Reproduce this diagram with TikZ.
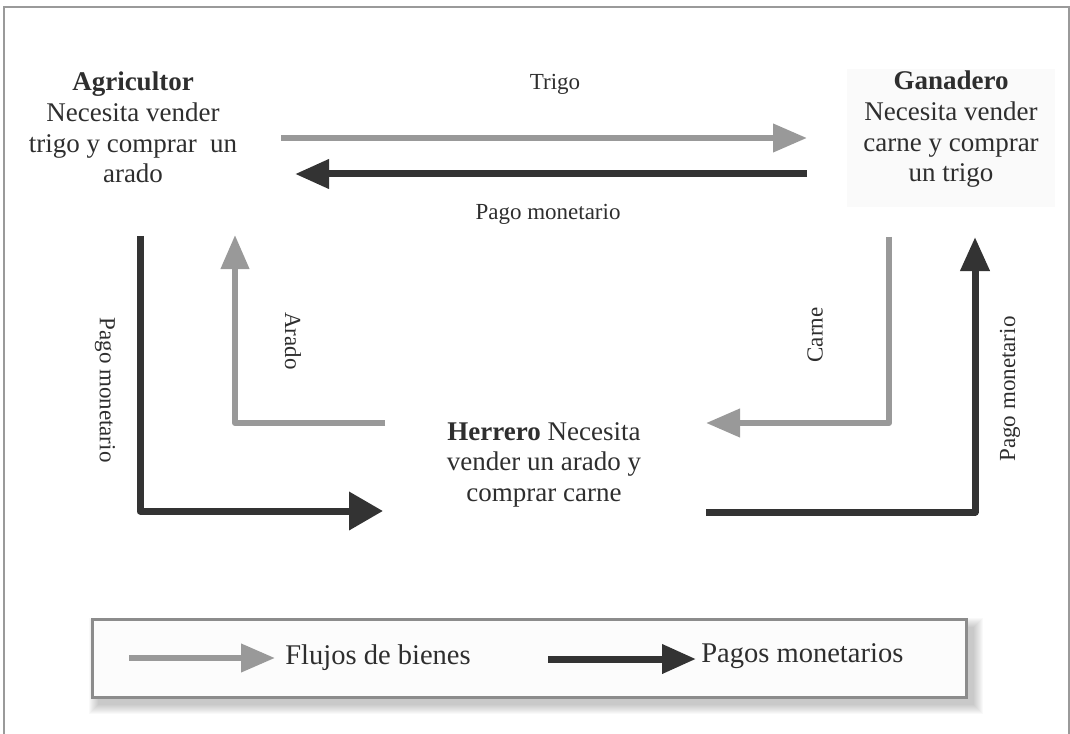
\documentclass[tikz,border=0pt]{standalone}
\usepackage{fontspec}
\setmainfont{Liberation Serif}
\usetikzlibrary{arrows.meta}
\definecolor{goodsgray}{HTML}{999999}
\definecolor{moneyblack}{HTML}{333333}
\definecolor{textdark}{HTML}{2E2E2E}
\definecolor{framegray}{HTML}{9A9A9A}
\definecolor{legendborder}{HTML}{8C8C8C}
\definecolor{boxfill}{HTML}{FAFAFA}
\definecolor{legendfill}{HTML}{FCFCFC}
\tikzset{
  maintext/.style={font=\fontsize{20.25pt}{23pt}\selectfont, text=textdark, align=center, inner sep=0pt, anchor=north},
  flowlbl/.style={font=\fontsize{17.25pt}{20pt}\selectfont, text=textdark, inner sep=0pt},
  legtext/.style={font=\fontsize{21.4pt}{25pt}\selectfont, text=textdark, inner sep=0pt, anchor=base west},
  goods/.style={draw=goodsgray, line width=4.6pt, line join=round, -{Triangle[length=25.5pt,width=20.5pt]}},
  money/.style={draw=moneyblack, line width=5.25pt, line join=round, -{Triangle[length=25.5pt,width=21pt]}},
  bigmoney/.style={draw=moneyblack, line width=5.25pt, line join=round, -{Triangle[length=25.5pt,width=27.75pt]}},
}
\begin{document}
\begin{tikzpicture}[x=0.75pt,y=-0.75pt]
\useasboundingbox (0,0) rectangle (1070,734);
% outer frame (open at the bottom)
\draw[framegray, line width=1.1pt] (4,734) -- (4,7) -- (1069,7) -- (1069,734);

% Ganadero background
\fill[boxfill] (847,69) rectangle (1055,207);

% actors
\node[maintext] (agri) at (133,71.7) {\textbf{Agricultor}\\Necesita vender\\trigo y comprar \ un\\arado};
\node[maintext] (gan) at (951,70.7) {\textbf{Ganadero}\\Necesita vender\\carne y comprar\\un trigo};
\node[maintext] (herr) at (544,422) {\textbf{Herrero} Necesita\\vender un arado y\\comprar carne};

% end points of flows
\coordinate (trigoS) at (281,138);
\coordinate (trigoE) at (807,138);
\coordinate (pagoTS) at (807,174);
\coordinate (pagoTE) at (295,174);
\coordinate (pagoLS) at (140,236);
\coordinate (pagoLE) at (383,511);
\coordinate (aradoS) at (385,423);
\coordinate (aradoE) at (235,235);
\coordinate (carneS) at (889,237);
\coordinate (carneE) at (706,423);
\coordinate (pagoRS) at (706,512);
\coordinate (pagoRE) at (975,237);

% flows
\draw[goods] (trigoS) -- (trigoE);
\draw[money] (pagoTS) -- (pagoTE);
\draw[bigmoney] (pagoLS) |- (pagoLE);
\draw[goods] (aradoS) -| (aradoE);
\draw[goods] (carneS) |- (carneE);
\draw[money] (pagoRS) -| (pagoRE);

% flow labels
\node[flowlbl, anchor=base] (lblTrigo) at (555,90) {Trigo};
\node[flowlbl, anchor=base] (lblPagoT) at (548,220) {Pago monetario};
\node[flowlbl, rotate=-90] (lblPagoL) at (105,390) {Pago monetario};
\node[flowlbl, rotate=-90] (lblArado) at (293,341) {Arado};
\node[flowlbl, rotate=90] (lblCarne) at (815,335) {Carne};
\node[flowlbl, rotate=90] (lblPagoR) at (1010,389) {Pago monetario};

% legend shadow
\foreach \e in {0,1,...,9}{
  \fill[black, opacity=0.022] (98-\e,627-\e) rectangle (974+\e,705+\e);
}
% legend box
\node[draw=legendborder, line width=2.25pt, fill=legendfill, minimum width=655.5pt, minimum height=58.5pt, inner sep=0pt] (legend) at (529,658) {};
\coordinate (legGS) at (129,658);
\coordinate (legGE) at (275,658);
\coordinate (legMS) at (548,659);
\coordinate (legME) at (696,659);
\draw[goods] (legGS) -- (legGE);
\draw[money] (legMS) -- (legME);
\node[legtext] (legGoods) at (285,664) {Flujos de bienes};
\node[legtext] (legMoney) at (701,662) {Pagos monetarios};
\end{tikzpicture}
\end{document}
